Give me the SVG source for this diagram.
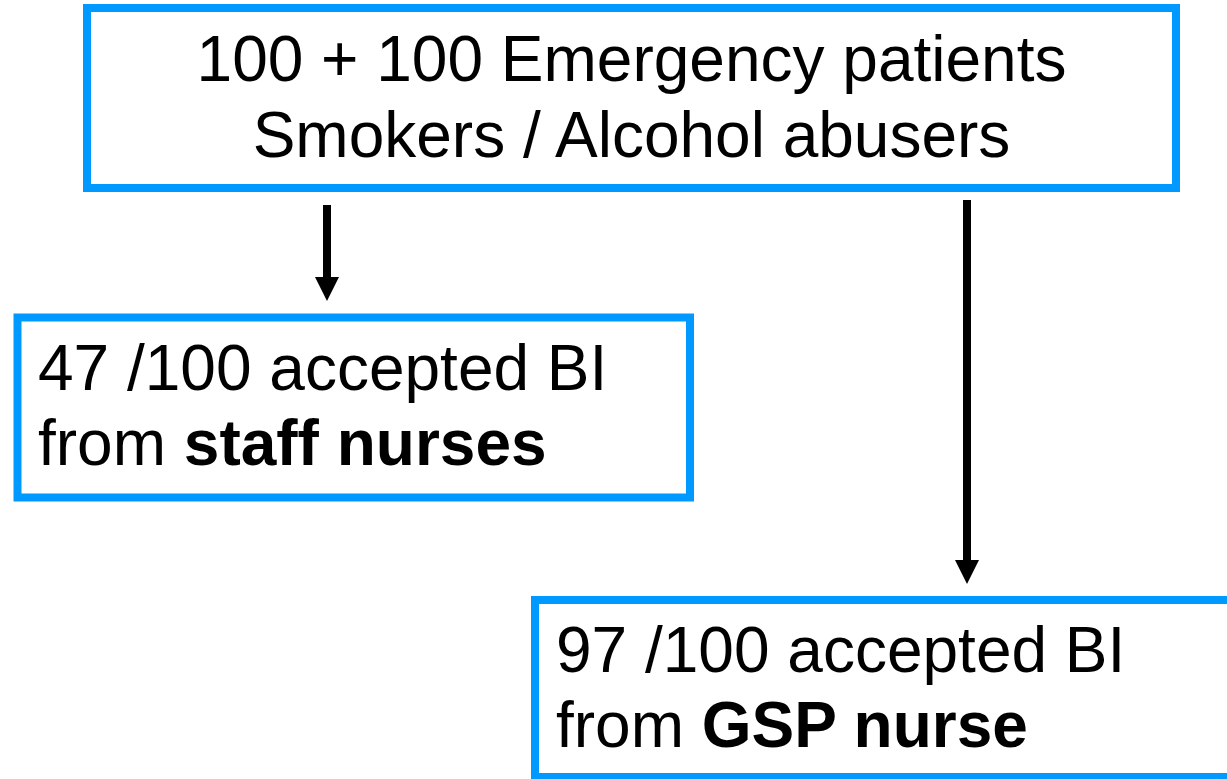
<svg xmlns="http://www.w3.org/2000/svg" width="1227" height="779" viewBox="0 0 1227 779">
<defs>
<style>
.box{fill:#fff;stroke:#0099ff;stroke-width:8}
.t{font-family:"Liberation Sans",Arial,sans-serif;font-size:64px;fill:#000}
.b{font-weight:bold}
.c{stroke:#000;stroke-width:8;fill:none}
</style>
<path id="head" d="M-12,0 L12,0 L0,24 Z" fill="#000"/>
</defs>
<rect width="1227" height="779" fill="#fff"/>
<g id="connectors">
<line class="c" x1="327" y1="205" x2="327" y2="278"/>
<use href="#head" x="327" y="277"/>
<line class="c" x1="967" y1="200" x2="967" y2="561"/>
<use href="#head" x="967" y="560"/>
</g>
<g id="top">
<rect class="box" x="87" y="8" width="1089" height="180"/>
<text class="t" x="631.5" y="81" text-anchor="middle">100 + 100 Emergency patients</text>
<text class="t" x="631.5" y="157" text-anchor="middle">Smokers / Alcohol abusers</text>
</g>
<g id="staff">
<rect class="box" x="17.5" y="317.5" width="672.5" height="180"/>
<text class="t" x="38" y="390">47 /100 accepted BI</text>
<text class="t" x="38" y="465">from <tspan class="b">staff nurses</tspan></text>
</g>
<g id="gsp">
<rect class="box" x="535" y="600" width="720" height="177"/>
<text class="t" x="556" y="672">97 /100 accepted BI</text>
<text class="t" x="556" y="747">from <tspan class="b">GSP nurse</tspan></text>
</g>
</svg>
